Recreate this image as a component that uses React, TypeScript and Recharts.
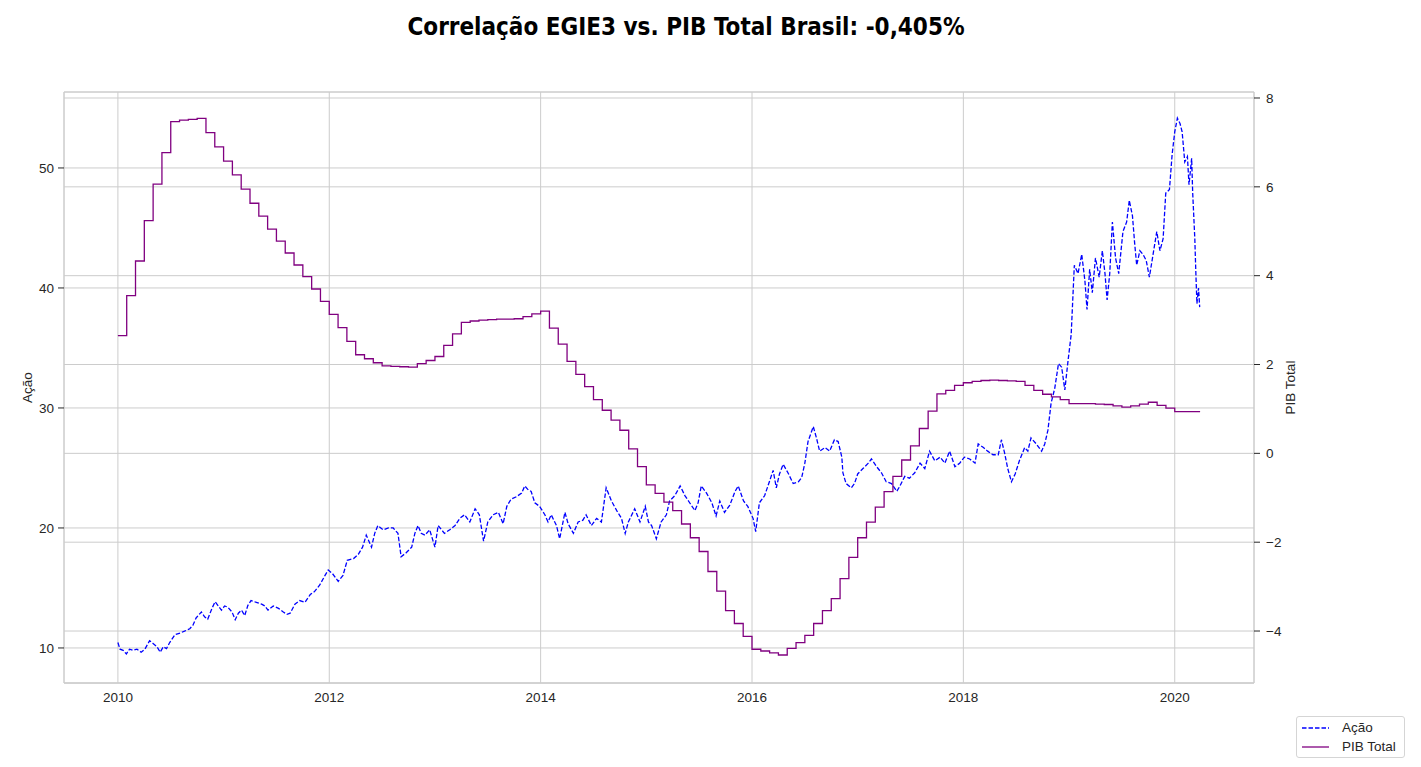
import React from 'react'
import { LineChart, Line, XAxis, YAxis, CartesianGrid, Legend } from 'recharts'

// PIB Total (monthly, Jan 2010 .. Mar 2020)
const pibStartYear = 2010
const pibValues = [
  2.65, 3.55, 4.33, 5.24, 6.06, 6.77, 7.47, 7.5, 7.52, 7.54, 7.22, 6.9, // 2010
  6.58, 6.27, 5.95, 5.63, 5.34, 5.05, 4.78, 4.51, 4.24, 3.98, 3.7, 3.42, // 2011
  3.13, 2.83, 2.52, 2.22, 2.13, 2.04, 1.97, 1.96, 1.95, 1.94, 2.02, 2.09, // 2012
  2.18, 2.43, 2.69, 2.95, 2.98, 3.0, 3.01, 3.02, 3.02, 3.03, 3.08, 3.14, // 2013
  3.2, 2.82, 2.46, 2.07, 1.78, 1.5, 1.21, 0.97, 0.75, 0.52, 0.1, -0.3, // 2014
  -0.71, -0.9, -1.1, -1.29, -1.59, -1.9, -2.21, -2.66, -3.1, -3.54, -3.83, -4.12, // 2015
  -4.41, -4.45, -4.49, -4.54, -4.39, -4.26, -4.1, -3.83, -3.54, -3.27, -2.82, -2.34, // 2016
  -1.9, -1.55, -1.21, -0.86, -0.52, -0.15, 0.17, 0.56, 0.95, 1.34, 1.42, 1.53, // 2017
  1.59, 1.62, 1.64, 1.65, 1.64, 1.63, 1.62, 1.53, 1.42, 1.33, 1.27, 1.21, // 2018
  1.12, 1.12, 1.12, 1.11, 1.1, 1.07, 1.04, 1.07, 1.11, 1.15, 1.08, 1.02, // 2019
  0.94, 0.94, 0.94, // 2020
]
const pibEnd = 2020.24

// EGIE3 price, x as decimal year
const acaoDates = [
  2010.0, 2010.02, 2010.05, 2010.08, 2010.11, 2010.145, 2010.18, 2010.22, 2010.255, 2010.3,
  2010.33, 2010.37, 2010.4, 2010.43, 2010.46, 2010.49, 2010.54, 2010.59, 2010.63, 2010.68,
  2010.71, 2010.74, 2010.79, 2010.82, 2010.85, 2010.89, 2010.92, 2010.95, 2010.98, 2011.01,
  2011.04, 2011.08, 2011.11, 2011.14, 2011.17, 2011.2, 2011.23, 2011.26, 2011.31, 2011.36,
  2011.39, 2011.42, 2011.47, 2011.52, 2011.565, 2011.6, 2011.63, 2011.675, 2011.72, 2011.77,
  2011.82, 2011.86, 2011.91, 2011.96, 2011.99, 2012.03, 2012.085, 2012.13, 2012.17, 2012.23,
  2012.275, 2012.315, 2012.35, 2012.4, 2012.43, 2012.46, 2012.51, 2012.56, 2012.605, 2012.65,
  2012.68, 2012.73, 2012.78, 2012.81, 2012.84, 2012.87, 2012.905, 2012.95, 2013.0, 2013.03,
  2013.09, 2013.14, 2013.19, 2013.235, 2013.28, 2013.33, 2013.38, 2013.42, 2013.46, 2013.5,
  2013.55, 2013.6, 2013.645, 2013.68, 2013.72, 2013.77, 2013.82, 2013.85, 2013.88, 2013.91,
  2013.945, 2013.99, 2014.04, 2014.07, 2014.1, 2014.15, 2014.18, 2014.23, 2014.26, 2014.31,
  2014.355, 2014.4, 2014.43, 2014.48, 2014.53, 2014.575, 2014.62, 2014.67, 2014.72, 2014.765,
  2014.8, 2014.83, 2014.89, 2014.94, 2014.99, 2015.02, 2015.05, 2015.095, 2015.14, 2015.19,
  2015.22, 2015.27, 2015.32, 2015.365, 2015.41, 2015.46, 2015.49, 2015.52, 2015.57, 2015.62,
  2015.66, 2015.695, 2015.74, 2015.79, 2015.84, 2015.87, 2015.92, 2015.96, 2016.01, 2016.035,
  2016.07, 2016.12, 2016.17, 2016.2, 2016.23, 2016.26, 2016.295, 2016.34, 2016.39, 2016.44,
  2016.47, 2016.5, 2016.53, 2016.58, 2016.61, 2016.64, 2016.69, 2016.735, 2016.78, 2016.815,
  2016.85, 2016.86, 2016.89, 2016.94, 2016.97, 2017.0, 2017.05, 2017.1, 2017.13, 2017.18,
  2017.225, 2017.27, 2017.32, 2017.37, 2017.4, 2017.445, 2017.49, 2017.54, 2017.59, 2017.635,
  2017.68, 2017.73, 2017.78, 2017.825, 2017.87, 2017.92, 2017.965, 2018.01, 2018.06, 2018.11,
  2018.14, 2018.19, 2018.23, 2018.28, 2018.33, 2018.36, 2018.39, 2018.42, 2018.455, 2018.49,
  2018.53, 2018.58, 2018.61, 2018.64, 2018.69, 2018.74, 2018.77, 2018.8, 2018.83, 2018.865,
  2018.9, 2018.93, 2018.96, 2018.99, 2019.02, 2019.05, 2019.085, 2019.12, 2019.15, 2019.17,
  2019.195, 2019.22, 2019.25, 2019.285, 2019.315, 2019.34, 2019.36, 2019.385, 2019.41, 2019.44,
  2019.47, 2019.51, 2019.545, 2019.57, 2019.6, 2019.62, 2019.64, 2019.67, 2019.7, 2019.73,
  2019.76, 2019.795, 2019.83, 2019.86, 2019.89, 2019.915, 2019.95, 2019.975, 2020.0, 2020.025,
  2020.05, 2020.07, 2020.095, 2020.12, 2020.135, 2020.16, 2020.17, 2020.18, 2020.19, 2020.2,
  2020.21, 2020.225, 2020.236,
]
const acaoValues = [
  10.45, 9.9, 9.8, 9.5, 9.9, 9.8, 9.9, 9.65, 9.9, 10.6,
  10.4, 10.1, 9.65, 10.1, 9.95, 10.45, 11.1, 11.25, 11.4, 11.6,
  11.9, 12.5, 13.0, 12.6, 12.4, 13.3, 13.85, 13.5, 13.15, 13.5,
  13.4, 13.0, 12.35, 12.9, 13.15, 12.7, 13.55, 13.95, 13.8, 13.65,
  13.5, 13.15, 13.5, 13.3, 13.0, 12.8, 12.9, 13.65, 13.95, 13.8,
  14.45, 14.7, 15.25, 16.05, 16.5, 16.2, 15.55, 16.05, 17.3, 17.45,
  17.8, 18.4, 19.4, 18.4, 19.55, 20.2, 19.85, 20.0, 20.0, 19.55,
  17.6, 17.95, 18.4, 19.55, 20.2, 19.55, 19.4, 19.85, 18.4, 20.2,
  19.55, 19.85, 20.2, 20.8, 21.1, 20.5, 21.6, 21.1, 18.9, 20.5,
  21.1, 21.3, 20.35, 21.8, 22.4, 22.6, 22.9, 23.5, 23.2, 23.05,
  22.1, 21.8, 21.1, 20.5, 21.1, 20.2, 19.1, 21.3, 20.35, 19.55,
  20.5, 20.65, 21.1, 20.2, 20.8, 20.5, 23.35, 22.25, 21.45, 20.8,
  19.55, 20.5, 21.6, 20.5, 21.8, 20.5, 20.2, 19.1, 20.5, 21.1,
  22.25, 22.7, 23.5, 22.7, 22.1, 21.45, 22.1, 23.5, 22.9, 22.1,
  21.0, 22.25, 21.3, 21.9, 23.05, 23.5, 22.25, 21.8, 20.8, 19.7,
  22.1, 22.7, 24.0, 24.8, 23.35, 24.5, 25.3, 24.6, 23.7, 23.85,
  24.2, 25.4, 27.2, 28.45, 27.5, 26.4, 26.7, 26.4, 27.35, 27.2,
  25.9, 24.6, 23.7, 23.35, 23.7, 24.5, 24.95, 25.4, 25.75, 25.1,
  24.6, 23.85, 23.7, 23.05, 23.5, 24.3, 24.15, 24.6, 25.4, 24.95,
  26.4, 25.6, 25.9, 25.4, 26.4, 25.1, 25.4, 25.9, 25.75, 25.4,
  27.0, 26.7, 26.4, 26.1, 26.1, 27.35, 26.25, 24.95, 23.85, 24.5,
  25.6, 26.7, 26.4, 27.5, 27.0, 26.4, 27.0, 28.15, 30.4, 31.65,
  33.7, 33.4, 31.5, 33.9, 36.1, 41.9, 41.2, 42.8, 40.6, 38.2,
  41.55, 39.6, 42.5, 40.9, 43.1, 41.2, 39.0, 41.2, 45.5, 42.5,
  41.2, 44.7, 45.5, 47.3, 46.0, 43.8, 41.9, 43.1, 42.8, 42.3,
  40.9, 42.8, 44.7, 43.1, 44.1, 47.9, 48.2, 51.1, 53.0, 54.15,
  53.7, 53.0, 50.5, 50.95, 48.6, 50.8, 47.9, 46.0, 44.1, 41.2,
  38.7, 40.0, 38.4,
]

const xTicks = [2010, 2012, 2014, 2016, 2018, 2020]
const leftTicks = [10, 20, 30, 40, 50]
const rightTicks = [-4, -2, 0, 2, 4, 6, 8]

const acaoData = acaoDates.map((x, i) => ({ x, y: acaoValues[i] }))
const pibData = [
  ...pibValues.map((y, i) => ({ x: pibStartYear + i / 12, y })),
  { x: pibEnd, y: pibValues[pibValues.length - 1] },
]

const TEXT = '#262626'
const GRID = '#cccccc'
const FONT = '"Liberation Sans", Arial, sans-serif'

function AxisTitle({ viewBox, value, dx }: any) {
  const cx = viewBox.x + dx
  const cy = viewBox.y + viewBox.height / 2
  return (
    <text
      x={cx}
      y={cy}
      transform={`rotate(-90 ${cx} ${cy})`}
      textAnchor="middle"
      dominantBaseline="central"
      fill={TEXT}
      fontSize={13.5}
      fontFamily={FONT}
    >
      {value}
    </text>
  )
}

function LegendBox() {
  const row = { display: 'flex', alignItems: 'center', height: 19, whiteSpace: 'nowrap' as const }
  return (
    <div
      style={{
        boxSizing: 'border-box',
        border: '1px solid #d5d5d5',
        borderRadius: 3,
        background: '#fff',
        padding: '1px 6px 1px 5px',
        fontFamily: FONT,
        fontSize: 13.5,
        color: TEXT,
        width: 109,
        height: 42,
      }}
    >
      <div style={row}>
        <svg width={27} height={10}>
          <line x1={0} y1={5} x2={27} y2={5} stroke="#0000ff" strokeWidth={1.3} strokeDasharray="4.5 2" />
        </svg>
        <span style={{ marginLeft: 13 }}>Ação</span>
      </div>
      <div style={row}>
        <svg width={27} height={10}>
          <line x1={0} y1={5} x2={27} y2={5} stroke="#800080" strokeWidth={1.3} />
        </svg>
        <span style={{ marginLeft: 13 }}>PIB Total</span>
      </div>
    </div>
  )
}

export default function App() {
  return (
    <div style={{ position: 'relative', width: 1405, height: 751 }}>
      <div
        style={{
          position: 'absolute',
          left: 0,
          top: 5,
          width: 1356,
          textAlign: 'center',
          fontFamily: '"DejaVu Sans Condensed", "Liberation Sans Narrow", Roboto, sans-serif',
          fontWeight: 700,
          fontSize: 24,
          color: '#000',
        }}
      >
        Correlação EGIE3 vs. PIB Total Brasil: -0,405%
      </div>
      <LineChart width={1405} height={751} margin={{ top: 84, right: 99, bottom: 46, left: 0 }}>
        <CartesianGrid yAxisId="left" stroke={GRID} strokeWidth={1} />
        <CartesianGrid yAxisId="right" vertical={false} stroke={GRID} strokeWidth={1} />
        <XAxis
          type="number"
          dataKey="x"
          domain={[2009.49, 2020.75]}
          ticks={xTicks}
          allowDataOverflow
          tickFormatter={(v) => String(v)}
          height={30}
          axisLine={{ stroke: GRID }}
          tickLine={false}
          tickMargin={3}
          tick={{ fill: TEXT, fontSize: 13.5, fontFamily: FONT }}
        />
        <XAxis xAxisId="top" orientation="top" type="number" dataKey="x" domain={[2009.49, 2020.75]} height={0} tick={false} tickLine={false} axisLine={{ stroke: GRID }} />
        <YAxis
          yAxisId="left"
          domain={[7.08, 56.33]}
          ticks={leftTicks}
          allowDataOverflow
          width={56}
          axisLine={{ stroke: GRID }}
          tickLine={{ stroke: TEXT }}
          tickSize={6}
          tickMargin={4}
          tick={{ fill: TEXT, fontSize: 13.5, fontFamily: FONT }}
          label={<AxisTitle value="Ação" dx={19} />}
        />
        <YAxis
          yAxisId="right"
          orientation="right"
          domain={[-5.17, 8.135]}
          ticks={rightTicks}
          allowDataOverflow
          width={60}
          axisLine={{ stroke: GRID }}
          tickLine={{ stroke: TEXT }}
          tickSize={6}
          tickMargin={6}
          tickFormatter={(v) => String(v).replace('-', '\u2212')}
          tick={{ fill: TEXT, fontSize: 13.5, fontFamily: FONT }}
          label={<AxisTitle value="PIB Total" dx={36} />}
        />
        <Line
          yAxisId="left"
          data={acaoData}
          dataKey="y"
          name="Ação"
          type="linear"
          stroke="#0000ff"
          strokeWidth={1.3}
          strokeDasharray="4.5 2"
          dot={false}
          activeDot={false}
          isAnimationActive={false}
        />
        <Line
          yAxisId="right"
          data={pibData}
          dataKey="y"
          name="PIB Total"
          type="stepAfter"
          stroke="#800080"
          strokeWidth={1.3}
          dot={false}
          activeDot={false}
          isAnimationActive={false}
        />
        <Legend
          layout="vertical"
          align="center"
          verticalAlign="middle"
          content={() => <LegendBox />}
          wrapperStyle={{ left: 1288, top: 708, width: 109, height: 42 }}
        />
      </LineChart>
    </div>
  )
}
